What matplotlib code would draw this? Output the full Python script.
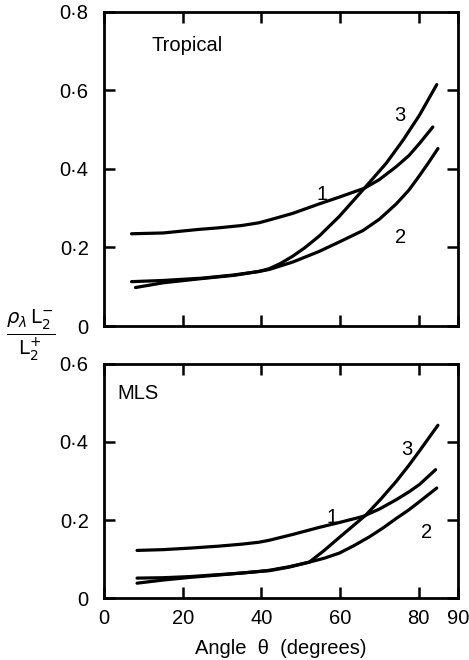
import matplotlib
matplotlib.use("Agg")
import matplotlib.pyplot as plt
from matplotlib.ticker import FixedLocator, FixedFormatter

# Tropical atmosphere
trop_x1 = [7, 15, 24, 29, 35, 39.4, 42, 48, 54.7, 60, 66.2, 70, 74.3, 77.5, 80.2, 83.6]
trop_y1 = [0.235, 0.237, 0.246, 0.250, 0.256, 0.263, 0.270, 0.287, 0.311, 0.329, 0.351, 0.373, 0.406, 0.434, 0.465, 0.507]
trop_x2 = [7, 15, 25, 33, 39.4, 42, 48, 54.7, 60, 65.8, 70, 74.3, 77.5, 80.2, 82.5, 84.9]
trop_y2 = [0.113, 0.116, 0.122, 0.130, 0.139, 0.144, 0.163, 0.190, 0.215, 0.243, 0.272, 0.311, 0.346, 0.383, 0.416, 0.452]
trop_x3 = [8, 15, 25, 33, 39.4, 42, 45, 48, 51, 54.7, 59.8, 66.2, 71.7, 76, 80.2, 84.6]
trop_y3 = [0.098, 0.110, 0.121, 0.129, 0.139, 0.146, 0.160, 0.178, 0.199, 0.229, 0.279, 0.351, 0.414, 0.473, 0.537, 0.615]

# Mid-latitude summer atmosphere
mls_x1 = [8.4, 15, 22, 29.2, 35, 39.4, 42, 48, 54.7, 60, 65.8, 70, 74.3, 77.5, 80.2, 84.3]
mls_y1 = [0.122, 0.124, 0.128, 0.133, 0.138, 0.143, 0.148, 0.163, 0.181, 0.194, 0.209, 0.228, 0.252, 0.272, 0.291, 0.329]
mls_x2 = [8.4, 15, 22, 29.2, 35, 39.4, 42, 47, 52.2, 56, 59.8, 63.5, 67.5, 71, 74.3, 77.5, 80.2, 84.6]
mls_y2 = [0.051, 0.052, 0.055, 0.060, 0.064, 0.068, 0.071, 0.080, 0.092, 0.102, 0.115, 0.134, 0.157, 0.180, 0.204, 0.226, 0.247, 0.282]
mls_x3 = [8.4, 15, 22, 29.2, 35, 39.4, 42, 47, 52.2, 56, 59.8, 66.6, 70.5, 74.3, 77.5, 80.2, 84.9]
mls_y3 = [0.038, 0.046, 0.053, 0.059, 0.064, 0.068, 0.070, 0.079, 0.092, 0.122, 0.155, 0.213, 0.255, 0.299, 0.340, 0.377, 0.443]

x_ticks = [0, 20, 40, 60, 80, 90]
x_labels = ["0", "20", "40", "60", "80", "90"]
trop_ticks = [0, 0.2, 0.4, 0.6, 0.8]
trop_labels = ["0", "0·2", "0·4", "0·6", "0·8"]
mls_ticks = [0, 0.2, 0.4, 0.6]
mls_labels = ["0", "0·2", "0·4", "0·6"]

plt.rcParams["font.family"] = ["Liberation Sans", "DejaVu Sans"]
FS = 14.5
LW = 2.3

fig = plt.figure(figsize=(4.69, 6.60), dpi=100)
ax1 = fig.add_axes([104 / 469, 1 - 326 / 660, 354 / 469, 314 / 660])
ax2 = fig.add_axes([104 / 469, 1 - 598 / 660, 354 / 469, 234 / 660])


def style(ax, yticks, ylabels, ymax, show_x):
    ax.set_xlim(0, 90)
    ax.set_ylim(0, ymax)
    for s in ax.spines.values():
        s.set_linewidth(2.0)
    ax.xaxis.set_major_locator(FixedLocator(x_ticks))
    ax.xaxis.set_major_formatter(FixedFormatter(x_labels if show_x else [""] * len(x_ticks)))
    ax.yaxis.set_major_locator(FixedLocator(yticks))
    ax.yaxis.set_major_formatter(FixedFormatter(ylabels))
    ax.tick_params(direction="in", length=8, width=1.8, top=True, right=True,
                   labelsize=FS, pad=11)
    ax.tick_params(axis="x", pad=8)


for ax, data, ticks, labels, ymax in [
    (ax1, [(trop_x1, trop_y1), (trop_x2, trop_y2), (trop_x3, trop_y3)], trop_ticks, trop_labels, 0.8),
    (ax2, [(mls_x1, mls_y1), (mls_x2, mls_y2), (mls_x3, mls_y3)], mls_ticks, mls_labels, 0.6),
]:
    for xs, ys in data:
        ax.plot(xs, ys, color="black", lw=LW, solid_capstyle="round", solid_joinstyle="round")
    style(ax, ticks, labels, ymax, ax is ax2)

ax1.text(12, 0.715, "Tropical", fontsize=FS, va="center")
ax1.text(55.5, 0.334, "1", fontsize=FS, ha="center", va="center")
ax1.text(75.5, 0.225, "2", fontsize=FS, ha="center", va="center")
ax1.text(75.1, 0.537, "3", fontsize=FS, ha="center", va="center")

ax2.text(3.5, 0.525, "MLS", fontsize=FS, va="center")
ax2.text(58.1, 0.207, "1", fontsize=FS, ha="center", va="center")
ax2.text(81.9, 0.167, "2", fontsize=FS, ha="center", va="center")
ax2.text(77, 0.381, "3", fontsize=FS, ha="center", va="center")

ax2.set_xlabel("Angle  θ  (degrees)", fontsize=FS, labelpad=8)

fig.text(31 / 469, 1 - 335 / 660, r"$\frac{\rho_\lambda\, \mathrm{L}_2^{-}}{\mathrm{L}_2^{+}}$",
         fontsize=20, ha="center", va="center")

fig.savefig("out.png", dpi=100, facecolor="white")
